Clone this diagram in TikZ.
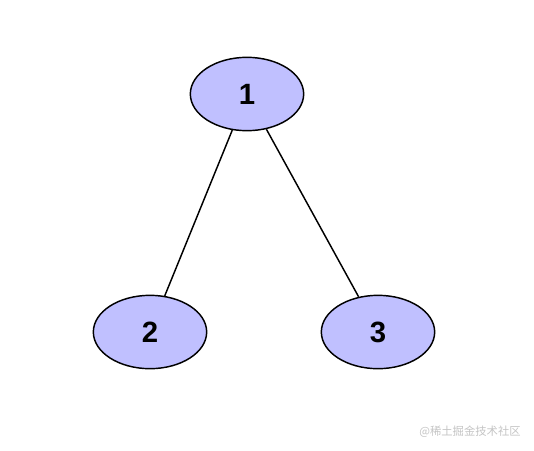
\documentclass[tikz,border=0pt]{standalone}
\usepackage{fontspec}
\setmainfont{Liberation Sans}
\newfontfamily\cjk{Noto Sans CJK SC}
\usepackage{xcolor}
\usepackage{tikz}
\usetikzlibrary{positioning, shapes}

\definecolor{nodefill}{HTML}{C0C0FF}
\definecolor{markgray}{HTML}{C4C4C4}

\tikzset{
  treenode/.style={draw, ellipse, fill=nodefill, line width=1.1pt,
    minimum width=85pt, minimum height=55pt, inner sep=0pt,
    font=\fontsize{22}{22}\selectfont\bfseries},
  edge/.style={line width=1.1pt}
}

\begin{document}
\begin{tikzpicture}[x=0.75pt, y=-0.75pt]
      \useasboundingbox (0, 0) rectangle (534, 450);

      \node[treenode] (n1) at (247, 94) {1};
      \node[treenode] (n2) at (150, 332) {2};
      \node[treenode] (n3) at (378, 332) {3};

      \draw[edge] (n1) -- (n2);
      \draw[edge] (n1) -- (n3);

      \node[text=markgray, font=\cjk\fontsize{8.5}{8.5}\selectfont] (mark) at (470, 432) {@稀土掘金技术社区};
    \end{tikzpicture}
\end{document}
